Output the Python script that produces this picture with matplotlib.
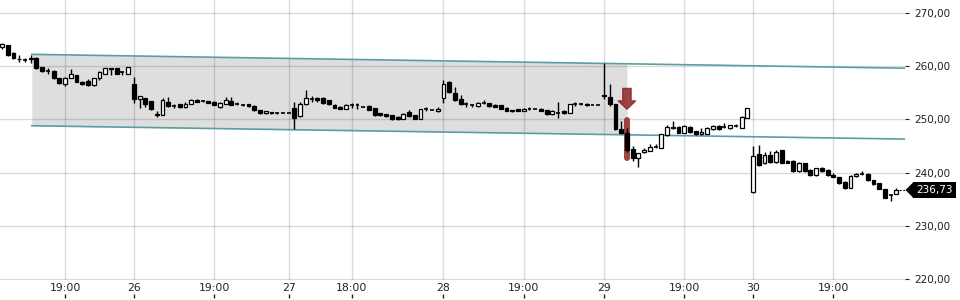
import matplotlib
matplotlib.use("Agg")
import matplotlib.pyplot as plt
import numpy as np
from matplotlib.ticker import FuncFormatter

# 15-minute candles (index = candle number)
opens = [263.6, 263.9, 262.4, 261.35, 261.25, 261.45, 261.5, 259.8, 259.15, 259.1,
         257.7, 256.6, 257.8, 258.3, 257.1, 257.2, 256.4, 257.7, 258.6, 259.6,
         259.6, 258.85, 258.6, 256.6, 253.8, 254.0, 253.4, 251.0, 250.9, 253.3,
         252.55, 252.8, 252.3, 252.9, 253.7, 253.45, 253.4, 253.3, 252.3, 252.9,
         253.4, 252.95, 252.75, 252.8, 252.5, 251.7, 251.1, 251.3, 251.25, 251.2,
         251.2, 252.2, 250.6, 252.8, 253.9, 254.1, 254.1, 253.6, 252.7, 252.4,
         252.0, 252.65, 252.65, 252.3, 252.5, 252.1, 251.1, 250.95, 250.8, 250.5,
         250.1, 251.4, 250.8, 250.1, 251.95, 251.75, 251.6, 254.1, 257.0, 254.9,
         253.9, 252.85, 252.65, 252.5, 253.15, 253.0, 252.7, 252.6, 252.2, 251.75,
         251.9, 251.6, 251.95, 251.9, 252.0, 251.7, 251.0, 251.3, 251.6, 251.25,
         252.85, 252.85, 252.9, 252.65, 252.65, 254.6, 254.25, 252.8, 248.1, 247.5,
         244.5, 242.8, 243.8, 244.1, 244.9, 244.7, 247.0, 248.6, 248.6, 247.5,
         248.6, 247.8, 247.2, 247.3, 248.1, 248.8, 248.6, 248.3, 248.8, 248.4,
         250.3, 236.3, 243.5, 241.8, 243.3, 242.0, 244.2, 242.2, 242.2, 240.3,
         241.8, 240.5, 239.5, 240.8, 240.5, 239.5, 239.1, 238.3, 237.2, 239.3,
         239.75, 239.8, 238.6, 238.0, 236.9, 235.85, 236.0]
highs = [264.4, 264.0, 262.6, 262.0, 261.6, 262.0, 261.7, 259.9, 259.6, 259.2,
         257.8, 257.9, 259.4, 258.4, 257.2, 257.5, 257.8, 259.0, 259.7, 259.7,
         259.7, 259.1, 259.9, 257.9, 254.4, 254.1, 253.5, 251.5, 254.0, 254.2,
         252.8, 252.9, 253.3, 253.8, 253.8, 253.6, 253.5, 253.4, 253.2, 254.2,
         254.2, 253.2, 252.9, 252.9, 252.6, 251.8, 251.6, 251.4, 251.4, 251.25,
         251.25, 253.3, 253.3, 255.5, 254.4, 254.2, 254.2, 253.7, 252.8, 252.5,
         252.8, 253.0, 253.0, 252.35, 252.6, 252.2, 251.2, 251.0, 250.9, 250.6,
         251.1, 251.7, 250.9, 252.0, 252.3, 251.8, 252.3, 257.4, 257.2, 256.0,
         254.6, 253.2, 252.9, 253.2, 253.6, 253.1, 252.8, 252.7, 252.3, 251.8,
         252.0, 252.1, 252.4, 251.95, 252.1, 251.8, 251.7, 253.3, 251.7, 252.9,
         253.2, 253.0, 253.0, 252.7, 252.7, 260.6, 256.6, 252.9, 249.7, 248.4,
         245.0, 243.7, 244.6, 245.3, 245.3, 247.3, 248.9, 249.7, 248.7, 248.9,
         248.7, 247.9, 248.4, 248.6, 248.9, 248.9, 249.4, 249.0, 249.1, 250.6,
         252.2, 245.0, 245.15, 243.8, 244.1, 244.2, 244.3, 242.3, 242.3, 242.0,
         241.9, 240.6, 240.9, 241.1, 240.6, 240.0, 239.2, 238.4, 239.5, 240.0,
         240.3, 239.9, 238.7, 238.1, 237.0, 236.0, 237.1]
lows = [263.2, 261.9, 261.3, 260.7, 260.8, 260.6, 259.5, 258.8, 258.6, 257.6,
        256.7, 256.3, 257.7, 257.0, 256.5, 256.3, 256.3, 257.3, 258.5, 258.3,
        258.5, 258.4, 258.5, 253.0, 252.1, 252.3, 251.8, 250.5, 250.8, 252.4,
        252.2, 252.2, 252.2, 252.8, 253.2, 253.2, 253.0, 252.6, 252.2, 252.8,
        252.6, 252.7, 252.5, 252.4, 251.6, 251.0, 251.0, 251.0, 251.0, 251.15,
        251.15, 248.1, 250.4, 252.6, 253.3, 253.3, 252.9, 252.7, 252.1, 251.9,
        251.9, 252.1, 251.9, 252.25, 251.7, 250.7, 250.7, 250.5, 249.9, 249.9,
        250.0, 250.5, 250.0, 250.0, 251.6, 251.7, 251.3, 253.1, 254.9, 253.5,
        252.7, 252.4, 252.3, 252.4, 252.8, 252.4, 252.3, 251.9, 251.5, 251.4,
        251.5, 251.5, 251.7, 251.85, 251.5, 250.9, 250.9, 250.3, 251.0, 251.2,
        252.5, 252.6, 252.5, 252.6, 252.6, 253.8, 252.5, 248.0, 247.4, 243.8,
        242.2, 241.0, 243.6, 244.0, 244.7, 244.6, 246.9, 248.2, 247.4, 247.4,
        247.5, 247.1, 247.1, 247.2, 248.0, 248.0, 248.4, 248.2, 248.6, 248.3,
        250.2, 236.2, 241.3, 241.7, 241.8, 241.9, 241.8, 241.8, 240.2, 240.2,
        240.2, 239.4, 239.4, 240.2, 239.4, 239.1, 237.9, 237.0, 237.1, 239.2,
        239.5, 238.5, 237.7, 236.9, 235.2, 234.7, 235.9]
closes = [264.1, 262.1, 261.5, 261.25, 261.2, 261.35, 259.7, 259.1, 259.1, 257.7,
          256.8, 257.7, 258.6, 257.1, 256.6, 256.4, 257.7, 258.8, 259.6, 259.4,
          258.6, 258.8, 259.8, 253.8, 254.3, 252.9, 251.9, 250.9, 253.7, 252.5,
          252.5, 252.3, 252.9, 253.7, 253.3, 253.4, 253.1, 252.7, 253.1, 253.6,
          252.7, 252.9, 252.7, 252.5, 251.7, 251.1, 251.5, 251.1, 251.2, 251.2,
          251.2, 250.3, 252.8, 254.1, 253.85, 253.6, 253.1, 252.8, 252.2, 252.0,
          252.7, 252.6, 252.6, 252.3, 251.75, 250.8, 250.8, 250.6, 250.0, 250.0,
          251.0, 250.6, 250.1, 251.9, 251.9, 251.75, 252.0, 256.6, 255.1, 253.6,
          252.8, 252.8, 252.6, 253.1, 253.1, 252.5, 252.4, 252.0, 251.6, 251.5,
          251.6, 252.0, 251.9, 251.9, 251.6, 251.0, 251.6, 251.25, 251.1, 252.8,
          252.8, 252.8, 252.6, 252.65, 252.65, 254.3, 252.8, 248.1, 247.5, 244.3,
          242.8, 243.6, 244.3, 244.9, 244.85, 247.2, 248.6, 248.3, 247.5, 248.8,
          247.6, 247.2, 247.6, 248.3, 248.8, 248.1, 248.55, 248.9, 248.75, 250.5,
          252.1, 243.2, 241.4, 243.3, 242.0, 243.9, 241.9, 241.9, 240.3, 241.9,
          240.3, 239.5, 240.8, 240.3, 239.5, 239.2, 238.0, 237.1, 239.4, 239.7,
          239.7, 238.6, 237.8, 237.0, 235.3, 235.8, 236.73]

# x axis labels (candle index where they sit)
tick_pos = [11, 23, 37, 50, 61, 77, 91, 105, 119, 131, 145]
tick_labels = ["19:00", "26", "19:00", "27", "18:00", "28", "19:00", "29", "19:00", "30", "19:00"]

# trend channel drawn on the chart
channel_x = [5.2, 157.5]
channel_top = [262.2, 259.6]
channel_bottom = [248.8, 246.3]
shade_end = 109  # grey box stops here
signal_idx = 109  # red marker candle

o = np.array(opens)
h = np.array(highs)
l = np.array(lows)
c = np.array(closes)
x = np.arange(len(c))

fig = plt.figure(figsize=(9.6, 3.0), dpi=100)
ax = fig.add_axes([0, 20 / 300, 905 / 960, 280 / 300])
ax.set_xlim(-0.35, 157.5)
ax.set_ylim(219.85, 272.4)

# channel + grey box
ch_top = np.interp(x, channel_x, channel_top)
xs = np.linspace(channel_x[0], shade_end, 50)
ax.fill_between(xs, np.interp(xs, channel_x, channel_bottom), np.interp(xs, channel_x, channel_top),
                color="#dedede", lw=0, zorder=0.5)
ax.plot(channel_x, channel_top, color="#5b9ea1", lw=1.2, zorder=2)
ax.plot(channel_x, channel_bottom, color="#5b9ea1", lw=1.2, zorder=2)

# red signal marker
sig_lo = l[signal_idx] - 1.0
sig_hi = h[signal_idx] + 1.5
ax.plot([signal_idx, signal_idx], [sig_lo, sig_hi], color="#8f2626", alpha=0.85,
        lw=4.3, solid_capstyle="round", zorder=2.5)
ax.annotate("", xy=(signal_idx, sig_hi + 2.0), xytext=(signal_idx, sig_hi + 5.9),
            arrowprops=dict(arrowstyle="simple,head_width=1.25,head_length=0.6,tail_width=0.6",
                            color="#8f2626", alpha=0.85, shrinkA=0, shrinkB=0),
            zorder=2.5)

# candles
w = 0.68
ax.vlines(x, l, h, color="black", lw=1, zorder=3)
up = c > o + 0.08
down = c < o - 0.08
flat = ~(up | down)
ax.bar(x[up], (c - o)[up], bottom=o[up], width=w, facecolor="white", edgecolor="black",
       lw=0.9, zorder=4)
ax.bar(x[down], (o - c)[down], bottom=c[down], width=w, facecolor="black", edgecolor="black",
       lw=0.9, zorder=4)
ax.hlines(c[flat], x[flat] - w / 2, x[flat] + w / 2, color="black", lw=1.2, zorder=4)

# last price marker
last = c[-1]
ax.plot([x[-1] + 0.5, 157.5], [last, last], color="black", lw=0.8, ls=(0, (2, 1.5)), zorder=3)
ytrans = ax.get_yaxis_transform()
ax.plot([913 / 905], [last], marker=[(-1, 0), (0, 1), (0, -1)], ms=10.8, color="black",
        transform=ytrans, clip_on=False)
ax.text(916 / 905, last, f"{last:.2f}".replace(".", ","), transform=ytrans, ha="left", va="center",
        color="white", fontsize=7.5,
        bbox=dict(boxstyle="square,pad=0.3", facecolor="black", edgecolor="none"), clip_on=False)

# axes styling
for s in ax.spines.values():
    s.set_visible(False)
ax.set_yticks(np.arange(220, 271, 10))
ax.yaxis.set_major_formatter(FuncFormatter(lambda v, p: f"{v:.2f}".replace(".", ",")))
ax.yaxis.tick_right()
ax.tick_params(axis="y", length=3, pad=4, labelsize=7.5, colors="#222222")
ax.set_xticks(tick_pos)
ax.set_xticklabels(tick_labels)
ax.tick_params(axis="x", length=0, pad=2.5, labelsize=7.8, colors="#222222")
ax.grid(True, color="black", alpha=0.14, lw=1)

# little tick marks below the date labels
ax.vlines(tick_pos, -0.063, -0.049, color="#222222", lw=1, transform=ax.get_xaxis_transform(),
          clip_on=False)

fig.savefig("out.png", dpi=100)
